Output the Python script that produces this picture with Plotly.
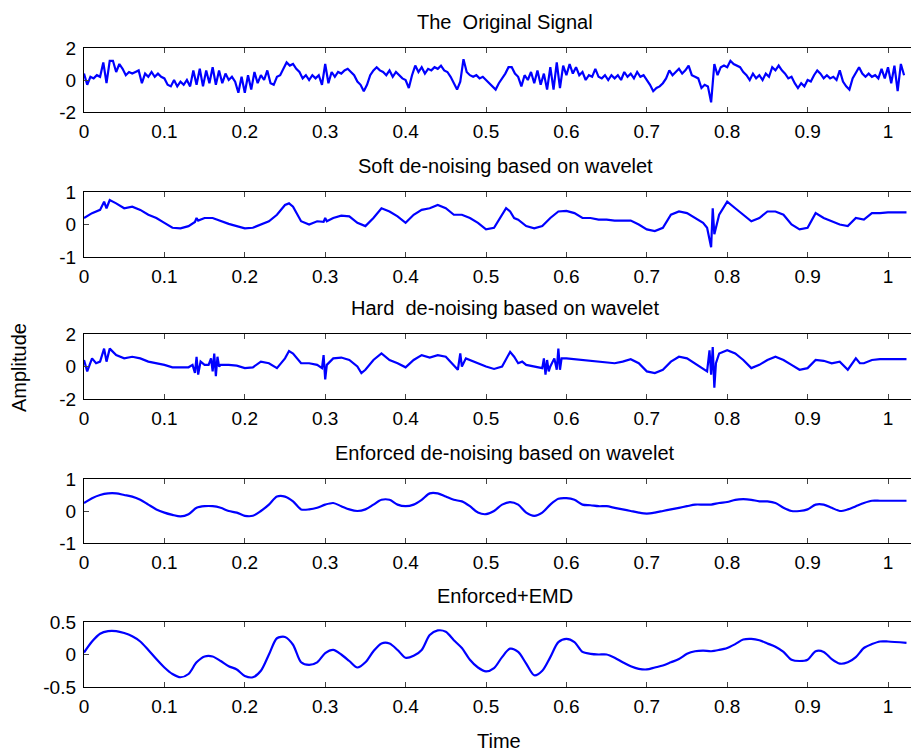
import plotly.graph_objects as go

# ---------------- data ----------------
orig_step = 0.004
orig_amp = [
    0.4, -0.3, 0.2, 0.1, 0.3, 0.2, 1.1, -0.2, 1.2, 1.2, 0.5, 1.0, 0.7, 0.3, 0.5, 0.4, 0.5, 0.6, -0.2, 0.4, 0.2, 0.5, 0.2, 0.4, 0.2, 0.1,
    -0.3, -0.4, 0.0, -0.4, -0.1, -0.3, 0.0, -0.4, 0.6, -0.3, 0.7, -0.4, 0.6, -0.2, 0.8, -0.3, 0.6, -0.2, 0.4, 0.0, 0.2, -0.1, -0.8, 0.2, -0.8,
    0.3, -0.6, 0.5, -0.2, 0.3, 0.0, 0.6, -0.2, -0.3, 0.2, 0.3, 0.7, 1.1, 0.9, 1.0, 0.7, 0.5, 0.1, 0.3, 0.0, 0.3, 0.1, 0.3, -0.3, 1.0,
    -0.2, 0.5, 0.2, 0.5, 0.4, 0.6, 0.7, 0.5, 0.3, -0.1, -0.3, -0.7, -0.3, 0.3, 0.6, 0.8, 0.6, 0.5, 0.3, 0.6, 0.2, 0.5, 0.3, 0.1, 0.0,
    -0.5, 0.3, 0.9, 0.5, 0.8, 0.4, 0.7, 0.6, 0.8, 0.7, 0.9, 0.6, 0.5, 0.2, -0.2, -0.6, -0.1, 1.3, 0.5, 0.3, 0.2, 0.3, 0.1, 0.2, 0.0,
    -0.2, -0.4, -0.6, -0.2, 0.1, 0.4, 0.8, 0.8, 0.4, 0.2, -0.4, 0.3, 0.0, 0.5, -0.2, 0.6, -0.3, 0.4, -0.6, 0.8, -0.6, 1.1, -0.5, 0.9, 0.3,
    1.0, 0.4, 0.8, 0.3, 0.5, 0.0, 0.3, 0.2, 0.7, 0.2, 0.1, 0.3, 0.0, 0.3, 0.1, 0.3, 0.0, 0.5, 0.2, 0.4, 0.1, 0.5, 0.2, 0.3, 0.0,
    -0.3, -0.7, -0.5, -0.4, -0.2, 0.1, 0.6, 0.3, 0.5, 0.7, 0.4, 0.6, 0.9, 0.3, 0.2, 0.1, -0.5, -0.3, -0.4, -1.4, 1.0, 0.3, 0.8, 0.9, 0.8,
    1.2, 1.0, 0.9, 0.8, 0.5, 0.3, 0.0, 0.4, 0.1, 0.3, 0.0, 0.4, 0.2, 0.8, 0.6, 0.9, 0.6, 0.4, 0.1, 0.2, -0.2, -0.5, -0.2, -0.4, 0.0,
    -0.1, 0.3, 0.6, 0.4, 0.1, 0.3, 0.1, 0.2, 0.0, 0.6, -0.1, -0.4, -0.6, 0.1, 0.5, 0.8, 0.4, 0.2, 0.4, 0.2, 0.3, 0.1, 0.7, 0.1, 0.8,
    -0.2, 0.9, -0.7, 1.0, 0.3,
]
orig_time = [round(i * orig_step, 4) for i in range(len(orig_amp))]

soft_time = [0.000, 0.010, 0.020, 0.025, 0.028, 0.032, 0.040, 0.050, 0.060, 0.070, 0.080, 0.090, 0.100, 0.110, 0.120, 0.130,
             0.138, 0.140, 0.142, 0.150, 0.160, 0.170, 0.180, 0.190, 0.200, 0.210, 0.220, 0.230, 0.240, 0.250, 0.255, 0.260,
             0.270, 0.280, 0.290, 0.298, 0.300, 0.302, 0.310, 0.320, 0.330, 0.340, 0.350, 0.360, 0.370, 0.380, 0.390, 0.400,
             0.410, 0.420, 0.430, 0.440, 0.450, 0.460, 0.470, 0.480, 0.490, 0.500, 0.510, 0.520, 0.525, 0.530, 0.535, 0.540,
             0.550, 0.560, 0.570, 0.580, 0.590, 0.600, 0.610, 0.620, 0.630, 0.640, 0.650, 0.660, 0.670, 0.680, 0.690, 0.700,
             0.710, 0.720, 0.730, 0.740, 0.750, 0.760, 0.770, 0.775, 0.780, 0.782, 0.784, 0.790, 0.800, 0.810, 0.820, 0.830,
             0.840, 0.850, 0.860, 0.870, 0.880, 0.890, 0.900, 0.910, 0.920, 0.930, 0.940, 0.950, 0.960, 0.970, 0.980, 0.990,
             1.000, 1.023]
soft_amp = [0.2, 0.35, 0.45, 0.7, 0.5, 0.75, 0.65, 0.5, 0.55, 0.45, 0.3, 0.2, 0.05, -0.1, -0.12, -0.05,
            0.08, 0.2, 0.12, 0.2, 0.2, 0.1, 0.02, -0.05, -0.12, -0.1, 0.0, 0.1, 0.3, 0.6, 0.65, 0.55,
            0.1, 0.0, 0.1, 0.08, 0.2, 0.1, 0.2, 0.27, 0.25, 0.05, -0.05, 0.2, 0.5, 0.4, 0.25, 0.05,
            0.3, 0.45, 0.5, 0.6, 0.5, 0.3, 0.3, 0.2, 0.05, -0.15, -0.1, 0.3, 0.5, 0.4, 0.2, 0.15,
            -0.05, -0.12, -0.05, 0.2, 0.4, 0.42, 0.35, 0.2, 0.2, 0.15, 0.15, 0.12, 0.12, 0.12, 0.0, -0.15,
            -0.2, -0.1, 0.3, 0.4, 0.35, 0.2, 0.05, -0.1, -0.7, 0.5, -0.3, 0.3, 0.7, 0.5, 0.3, 0.1,
            0.2, 0.4, 0.4, 0.3, 0.0, -0.15, -0.1, 0.35, 0.2, 0.1, 0.0, -0.05, 0.2, 0.15, 0.35, 0.35,
            0.37, 0.37]

hard_time = [0.000, 0.004, 0.010, 0.015, 0.020, 0.025, 0.028, 0.032, 0.040, 0.050, 0.060, 0.070, 0.080, 0.090, 0.100,
             0.110, 0.120, 0.130, 0.135, 0.138, 0.140, 0.142, 0.145, 0.150, 0.155, 0.158, 0.160, 0.162, 0.164, 0.166,
             0.168, 0.170, 0.180, 0.190, 0.200, 0.210, 0.220, 0.230, 0.240, 0.250, 0.255, 0.260, 0.270, 0.280, 0.290,
             0.296, 0.298, 0.300, 0.302, 0.310, 0.320, 0.330, 0.340, 0.345, 0.350, 0.360, 0.370, 0.380, 0.390, 0.400,
             0.410, 0.420, 0.430, 0.440, 0.450, 0.460, 0.465, 0.468, 0.470, 0.475, 0.480, 0.490, 0.500, 0.510, 0.520,
             0.530, 0.535, 0.540, 0.545, 0.550, 0.560, 0.570, 0.572, 0.574, 0.576, 0.578, 0.580, 0.585, 0.588, 0.590,
             0.592, 0.594, 0.600, 0.610, 0.620, 0.630, 0.640, 0.650, 0.660, 0.670, 0.680, 0.690, 0.700, 0.710, 0.720,
             0.730, 0.740, 0.750, 0.760, 0.770, 0.775, 0.778, 0.780, 0.782, 0.784, 0.786, 0.790, 0.800, 0.810, 0.820,
             0.830, 0.840, 0.850, 0.860, 0.870, 0.880, 0.890, 0.900, 0.910, 0.920, 0.930, 0.940, 0.950, 0.960, 0.965,
             0.970, 0.980, 0.990, 1.000, 1.023]
hard_amp = [0.4, -0.3, 0.5, 0.2, 0.3, 1.1, 0.3, 1.1, 0.7, 0.5, 0.6, 0.5, 0.3, 0.2, 0.1,
            -0.05, -0.05, -0.05, 0.1, -0.4, 0.6, -0.5, 0.3, 0.1, 0.1, 0.5, -0.3, 0.8, -0.6, 0.6,
            0.0, 0.1, 0.1, 0.05, -0.1, -0.05, 0.3, 0.2, -0.1, 0.5, 0.95, 0.8, 0.2, 0.2, 0.1,
            -0.1, 0.7, -0.8, 0.1, 0.5, 0.55, 0.4, 0.0, -0.4, -0.2, 0.4, 0.8, 0.4, 0.2, -0.05,
            0.4, 0.7, 0.55, 0.7, 0.6, 0.1, -0.2, 0.8, 0.0, 0.5, 0.4, 0.2, 0.0, -0.15, 0.0,
            0.9, 0.6, 0.2, 0.3, 0.1, 0.0, -0.1, 0.5, -0.5, 0.4, -0.3, 0.0, 0.5, -0.2, 1.1,
            -0.2, 0.5, 0.5, 0.45, 0.4, 0.35, 0.3, 0.25, 0.2, 0.3, 0.45, 0.2, -0.3, -0.4, -0.2,
            0.3, 0.6, 0.5, 0.2, -0.1, -0.3, 1.0, -0.5, 1.2, -1.3, 0.2, 0.8, 1.0, 0.8, 0.4,
            -0.1, 0.1, 0.4, 0.6, 0.4, 0.1, -0.2, -0.1, 0.4, 0.35, 0.2, 0.3, -0.2, 0.5, 0.2,
            0.2, 0.4, 0.45, 0.45, 0.45]

smooth_time = [round(i * 0.01, 2) for i in range(101)] + [1.023]
enforced_amp = [0.25, 0.4, 0.5, 0.55, 0.55, 0.5, 0.45, 0.35, 0.2, 0.05,
                -0.05, -0.12, -0.17, -0.1, 0.1, 0.15, 0.15, 0.1, 0.0, -0.05,
                -0.15, -0.15, 0.0, 0.2, 0.45, 0.45, 0.3, 0.05, 0.05, 0.1,
                0.2, 0.25, 0.15, 0.05, 0.0, 0.05, 0.2, 0.35, 0.35, 0.2,
                0.15, 0.2, 0.35, 0.55, 0.55, 0.45, 0.35, 0.3, 0.15, -0.05,
                -0.1, 0.0, 0.2, 0.28, 0.2, -0.05, -0.15, -0.05, 0.2, 0.38,
                0.4, 0.35, 0.2, 0.18, 0.15, 0.15, 0.1, 0.05, 0.0, -0.05,
                -0.08, -0.05, 0.0, 0.05, 0.1, 0.15, 0.2, 0.2, 0.2, 0.25,
                0.28, 0.35, 0.37, 0.35, 0.3, 0.3, 0.25, 0.1, 0.0, 0.0,
                0.05, 0.2, 0.2, 0.1, 0.0, 0.05, 0.15, 0.25, 0.32, 0.32,
                0.32, 0.32]
emd_amp = [0.03, 0.2, 0.32, 0.36, 0.36, 0.33, 0.28, 0.2, 0.07, -0.07,
           -0.2, -0.3, -0.35, -0.3, -0.12, -0.03, -0.03, -0.1, -0.18, -0.23,
           -0.33, -0.35, -0.25, 0.0, 0.25, 0.27, 0.15, -0.12, -0.16, -0.12,
           0.02, 0.07, 0.0, -0.1, -0.2, -0.12, 0.05, 0.17, 0.17, 0.07,
           -0.05, -0.02, 0.07, 0.3, 0.37, 0.35, 0.22, 0.1, -0.08, -0.2,
           -0.26, -0.21, -0.04, 0.09, 0.04, -0.14, -0.32, -0.25, -0.04, 0.19,
           0.24, 0.19, 0.04, 0.01, 0.0, 0.0, -0.05, -0.12, -0.18, -0.22,
           -0.23, -0.2, -0.17, -0.12, -0.07, 0.01, 0.05, 0.06, 0.05, 0.07,
           0.1, 0.16, 0.23, 0.24, 0.22, 0.17, 0.12, 0.04, -0.08, -0.1,
           -0.08, 0.05, 0.04, -0.07, -0.14, -0.12, -0.04, 0.1, 0.16, 0.2,
           0.2, 0.18]

titles = ["The\u00a0 Original Signal", "Soft de-noising based on wavelet", "Hard\u00a0 de-noising based on wavelet",
          "Enforced de-noising based on wavelet", "Enforced+EMD"]
x_tickvals = [0, 0.1, 0.2, 0.3, 0.4, 0.5, 0.6, 0.7, 0.8, 0.9, 1.0]
x_ticktext = ["0", "0.1", "0.2", "0.3", "0.4", "0.5", "0.6", "0.7", "0.8", "0.9", "1"]
y_tickvals = [[-2, 0, 2], [-1, 0, 1], [-2, 0, 2], [-1, 0, 1], [-0.5, 0, 0.5]]
y_ticktext = [["-2", "0", "2"], ["-1", "0", "1"], ["-2", "0", "2"], ["-1", "0", "1"], ["-0.5", "0", "0.5"]]
x_label = "Time"
y_label = "Amplitude"

# ---------------- layout ----------------
OFF = 8                      # page body margin of the html page
W, H = 919 - OFF, 753 - OFF  # figure size so it fits the window
FONT = "Liberation Sans, Arial, sans-serif"


def px_x(p):  # window pixel -> paper x
    return (p - OFF) / W


def px_y(p):  # window pixel -> paper y
    return 1 - (p - OFF) / H


left_px, right_px = 84, 919
x0_px, x1_px = 84, 888  # window pixel positions of t=0 and t=1
x_max = (right_px - x0_px) / (x1_px - x0_px)
panel_px = [(48, 112), (192, 257), (334, 399), (479, 543), (622, 687)]

series = [(orig_time, orig_amp), (soft_time, soft_amp), (hard_time, hard_amp),
          (smooth_time, enforced_amp), (smooth_time, emd_amp)]
shapes = ["linear", "linear", "linear", "spline", "spline"]

fig = go.Figure()
layout = dict(width=W, height=H, margin=dict(l=0, r=0, t=0, b=0, autoexpand=False),
              paper_bgcolor="white", plot_bgcolor="white", showlegend=False,
              font=dict(family=FONT, size=19, color="black"))
annotations = []
for i, ((tx, ty), (top, bot)) in enumerate(zip(series, panel_px)):
    n = "" if i == 0 else str(i + 1)
    line = dict(color="#0000ff", width=2.2, shape=shapes[i])
    if shapes[i] == "spline":
        line["smoothing"] = 0.8
    fig.add_trace(go.Scatter(x=tx, y=ty, mode="lines", xaxis="x" + n, yaxis="y" + n,
                             line=line, hoverinfo="skip"))
    common = dict(showline=True, linecolor="black", linewidth=1.3, mirror="ticks",
                  ticks="inside", ticklen=5, tickwidth=1, tickcolor="#444", automargin=False,
                  showgrid=False, zeroline=False, tickfont=dict(family=FONT, size=19, color="black"))
    layout["xaxis" + n] = dict(domain=[px_x(left_px), 1.0], range=[0, x_max], anchor="y" + n,
                               tickvals=x_tickvals, ticktext=x_ticktext, ticklabelstandoff=2, **common)
    yr = y_tickvals[i]
    layout["yaxis" + n] = dict(domain=[px_y(bot), px_y(top)], range=[yr[0], yr[-1]], anchor="x" + n,
                               tickvals=yr, ticktext=y_ticktext[i], ticklabelstandoff=3, **common)
    annotations.append(dict(text=titles[i], x=px_x(505), y=px_y(top - 26), xref="paper", yref="paper",
                            xanchor="center", yanchor="middle", showarrow=False,
                            font=dict(family=FONT, size=20, color="black")))

annotations.append(dict(text=x_label, x=px_x(499), y=px_y(741), xref="paper", yref="paper",
                        xanchor="center", yanchor="middle", showarrow=False,
                        font=dict(family=FONT, size=20, color="black")))
annotations.append(dict(text=y_label, x=px_x(19), y=px_y(368), xref="paper", yref="paper",
                        xanchor="center", yanchor="middle", showarrow=False, textangle=-90,
                        font=dict(family=FONT, size=20, color="black")))
layout["annotations"] = annotations
fig.update_layout(**layout)
fig.write_html("out.html")
